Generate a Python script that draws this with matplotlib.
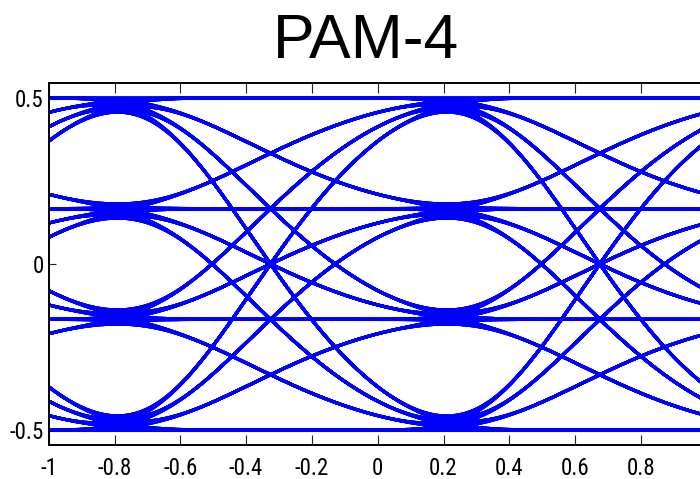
"""PAM-4 eye diagram (MATLAB-style) rebuilt with matplotlib."""

from itertools import product
from math import erf

import matplotlib
matplotlib.use("Agg")
import matplotlib.pyplot as plt
import numpy as np


# PAM-4 amplitude levels
LEVELS = [-0.5, -1 / 6, 1 / 6, 0.5]
# eye crossing times (symbol periods)
CROSS_TIMES = [-1.326, -0.326, 0.675]
# transition shape (probit coefficients fitted to points)
SHAPE = [3.547, -1.046, 2.332]
X_TICKS = [-1, -0.8, -0.6, -0.4, -0.2, 0, 0.2, 0.4, 0.6, 0.8]
Y_TICKS = [-0.5, 0, 0.5]
TICK_FONT = ["Roboto Condensed", "DejaVu Sans Condensed", "Liberation Sans"]

_phi = np.vectorize(lambda z: 0.5 * (1.0 + erf(z / np.sqrt(2.0))))


def transition(tau):
    """Smooth, slightly skewed 0->1 transition centred on the crossing."""
    a, b, c = SHAPE
    return _phi(a * tau + b * tau ** 2 + c * tau ** 3)


def fmt(v):
    return f"{v:g}"


def main():
    plt.rcParams["font.family"] = ["Liberation Sans", "DejaVu Sans"]
    fig = plt.figure(figsize=(7.0, 4.79), dpi=100)
    ax = fig.add_axes([48.7 / 700, 34 / 479, 658 / 700, 362 / 479])

    t = np.linspace(-1, 1, 500)
    steps = [transition(t - tc) for tc in CROSS_TIMES]
    for seq in product(LEVELS, repeat=len(CROSS_TIMES) + 1):
        y = np.full_like(t, seq[0])
        for k, s in enumerate(steps):
            y = y + (seq[k + 1] - seq[k]) * s
        ax.plot(t, y, color="#0000ff", lw=2.2, solid_capstyle="butt")

    ax.set_xlim(-1, 1)
    ax.set_ylim(-0.545, 0.545)
    ax.set_xticks(X_TICKS)
    ax.set_xticklabels([fmt(v) for v in X_TICKS], family=TICK_FONT)
    ax.set_yticks(Y_TICKS)
    ax.set_yticklabels([fmt(v) for v in Y_TICKS], family=TICK_FONT)
    ax.tick_params(direction="in", top=True, right=True, labelsize=16.5,
                   width=0.8, color="#222222")
    ax.tick_params(axis="x", length=7, pad=8.5)
    ax.tick_params(axis="y", length=5, pad=3.5)
    for spine in ax.spines.values():
        spine.set_linewidth(1.4)

    fig.text(365.5 / 700, 1 - 58 / 479, "PAM-4", fontsize=45,
             ha="center", va="baseline")
    fig.savefig("out.png", dpi=100)
    plt.close(fig)


if __name__ == "__main__":
    main()
